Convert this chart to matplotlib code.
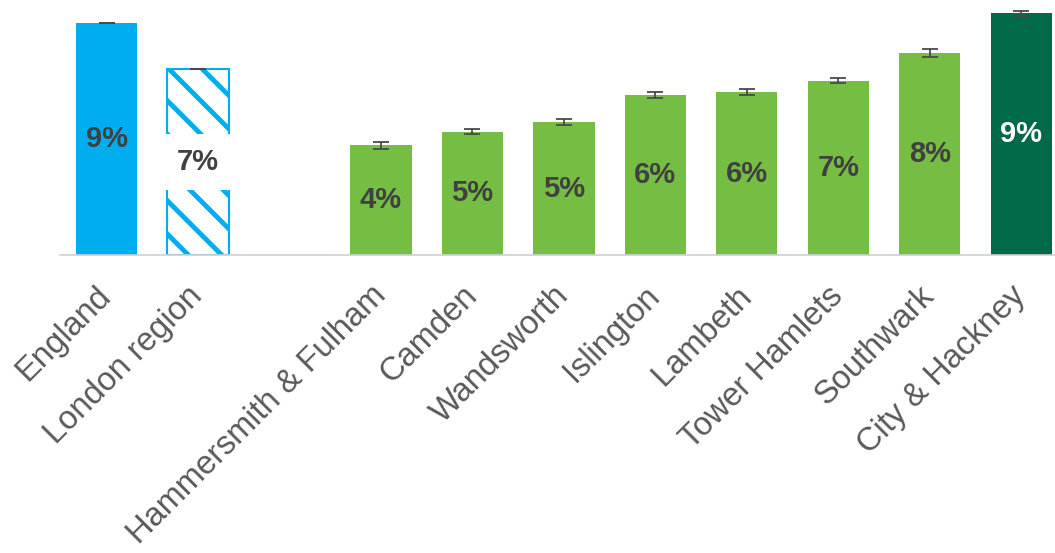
import matplotlib.pyplot as plt

plt.rcParams["font.family"] = ["Liberation Sans", "DejaVu Sans"]

# data
categories = ["England", "London region", "Hammersmith & Fulham", "Camden", "Wandsworth",
              "Islington", "Lambeth", "Tower Hamlets", "Southwark", "City & Hackney"]
positions = [0, 1, 3, 4, 5, 6, 7, 8, 9, 10]
values = [9.0, 7.21, 4.26, 4.79, 5.16, 6.23, 6.32, 6.77, 7.86, 9.39]
errors = [0.0, 0.0, 0.15, 0.1, 0.11, 0.12, 0.12, 0.1, 0.15, 0.1]
labels = ["9%", "7%", "4%", "5%", "5%", "6%", "6%", "7%", "8%", "9%"]

blue = "#00AEEF"
green = "#76BE43"
dark_green = "#00694A"
colors = [blue, "white"] + [green] * 7 + [dark_green]

plt.rcParams["hatch.linewidth"] = 3.5
plt.rcParams["hatch.color"] = blue

fig = plt.figure(figsize=(10.55, 5.53), dpi=100)
ax = fig.add_axes([60 / 1055, 1 - 255 / 553, 1 - 60 / 1055, 255 / 553])

bars = ax.bar(positions, values, width=0.67, color=colors, zorder=2)
bars[1].set_hatch("\\")
bars[1].set_edgecolor(blue)
bars[1].set_linewidth(1.5)

ax.errorbar(positions, values, yerr=errors, fmt="none", ecolor="#4a4a4a",
            elinewidth=1.3, capsize=6, capthick=1.3, zorder=3)

for i, (x, v, lab) in enumerate(zip(positions, values, labels)):
    c = "white" if i == len(values) - 1 else "#404040"
    kw = {}
    if i == 1:
        kw["bbox"] = dict(facecolor="white", edgecolor="none", pad=10)
    ax.text(x, v / 2, lab, ha="center", va="center", fontsize=21,
            fontweight="bold", color=c, zorder=4, **kw)

ax.set_xlim(-0.51, 10.37)
ax.set_ylim(0, 9.91)
ax.set_xticks(positions)
ax.set_xticklabels(categories, rotation=45, ha="right", va="center",
                   rotation_mode="anchor", fontsize=23.5, color="#595959")
ax.tick_params(axis="x", length=0, pad=26)
ax.set_yticks([])
for side in ["top", "right", "left"]:
    ax.spines[side].set_visible(False)
ax.spines["bottom"].set_color("#D0D0D0")
ax.spines["bottom"].set_linewidth(1.2)

fig.savefig("out.png", dpi=100)
